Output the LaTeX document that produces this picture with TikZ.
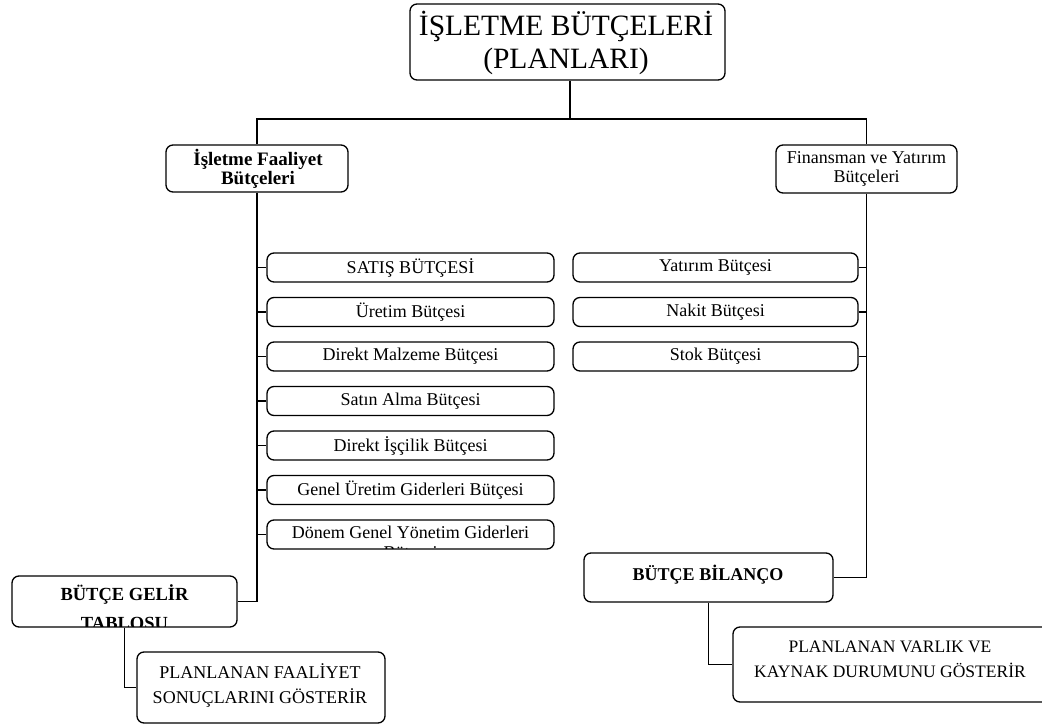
\documentclass[tikz,border=0pt]{standalone}
\usepackage{fontspec}
\setmainfont{Liberation Serif}
\usetikzlibrary{fit}
\begin{document}
\begin{tikzpicture}[x=1pt,y=-1pt,
  box/.style={draw, line width=1.3pt, rounded corners=7pt, inner sep=0pt},
  conn/.style={line width=1.3pt},
  txt/.style={inner sep=0pt, align=center, font=\fontsize{18}{19}\selectfont},
  btxt/.style={txt, font=\fontsize{18}{19}\selectfont\bfseries}]
\clip (0,0) rectangle (1042,725);
% top
\node[box, fit={(410,4) (725,80)}] (top) {};
\node[txt, font=\fontsize{29.5}{33}\selectfont] (ttop) at (566,43) {İŞLETME BÜTÇELERİ\\(PLANLARI)};
% level 2
\node[box, fit={(166,145) (348,192)}] (lf) {};
\node[btxt, font=\fontsize{19}{19.5}\selectfont\bfseries] (tlf) at (258,169) {İşletme Faaliyet\\Bütçeleri};
\node[box, fit={(776,145) (957,193)}] (rf) {};
\node[txt, font=\fontsize{18}{19}\selectfont] (trf) at (866.5,168.5) {Finansman ve Yatırım\\Bütçeleri};
% left list
\node[box, fit={(267,253) (554,282)}] (b1) {};
\node[txt] at (b1) {SATIŞ BÜTÇESİ};
\node[box, fit={(267,297.5) (554,326.5)}] (b2) {};
\node[txt] at (b2) {Üretim Bütçesi};
\node[box, fit={(267,342) (554,371)}] (b3) {};
\node[txt] at (b3) {Direkt Malzeme Bütçesi};
\node[box, fit={(267,386.5) (554,415.5)}] (b4) {};
\node[txt] at (b4) {Satın Alma Bütçesi};
\node[box, fit={(267,431) (554,460)}] (b5) {};
\node[txt] at (b5) {Direkt İşçilik Bütçesi};
\node[box, fit={(267,475.5) (554,504.5)}] (b6) {};
\node[txt] at (b6) {Genel Üretim Giderleri Bütçesi};
\node[box, fit={(267,520) (554,549)}] (b7) {};
\begin{scope}
  \clip (267,520) rectangle (554,548.3);
  \node[txt, anchor=base, font=\fontsize{18}{20}\selectfont] (tb7) at (410.5,558) {Dönem Genel Yönetim Giderleri\\Bütçesi};
\end{scope}
% right list
\node[box, fit={(573,253) (858,282)}] (y1) {};
\node[txt] at (y1) {Yatırım Bütçesi};
\node[box, fit={(573,297.5) (858,326.5)}] (y2) {};
\node[txt] at (y2) {Nakit Bütçesi};
\node[box, fit={(573,342) (858,371)}] (y3) {};
\node[txt] at (y3) {Stok Bütçesi};
% bottom left
\node[box, fit={(12,576) (237,627)}] (gelir) {};
\begin{scope}
  \clip (12,576) rectangle (237,626.3);
  \node[btxt, anchor=base, font=\fontsize{18.5}{29}\selectfont\bfseries] (tgelir) at (124.5,629.5) {BÜTÇE GELİR\\TABLOSU};
\end{scope}
\node[box, fit={(137,652) (385,723)}] (planf) {};
\node[txt, font=\fontsize{18}{25}\selectfont] (tplanf) at (260,685.5) {PLANLANAN FAALİYET\\SONUÇLARINI GÖSTERİR};
% bottom right
\node[box, fit={(584,553) (833,602)}] (bil) {};
\node[btxt, anchor=base, font=\fontsize{18}{19}\selectfont\bfseries] (tbil) at (708,580) {BÜTÇE BİLANÇO};
\node[box, fit={(733,627) (1070,702)}] (planv) {};
\node[txt, font=\fontsize{17.5}{25}\selectfont] (tplanv) at (890,659.5) {PLANLANAN VARLIK VE\\KAYNAK DURUMUNU GÖSTERİR};
% connectors
\coordinate (j) at (570,119);
\draw[conn] (top.south -| j) -- (j);
\draw[conn] (lf.north) |- (j) -| (rf.north);
\draw[conn] (lf.south) |- (gelir.east);
\foreach \b in {b1,b2,b3,b4,b5,b6,b7} \draw[conn] (\b.west -| lf.south) -- (\b.west);
\draw[conn] (rf.south) |- (bil.east);
\foreach \b in {y1,y2,y3} \draw[conn] (\b.east) -- (\b.east -| rf.south);
\draw[conn] (gelir.south) |- (planf.west);
\draw[conn] (bil.south) |- (planv.west);
\end{tikzpicture}
\end{document}
